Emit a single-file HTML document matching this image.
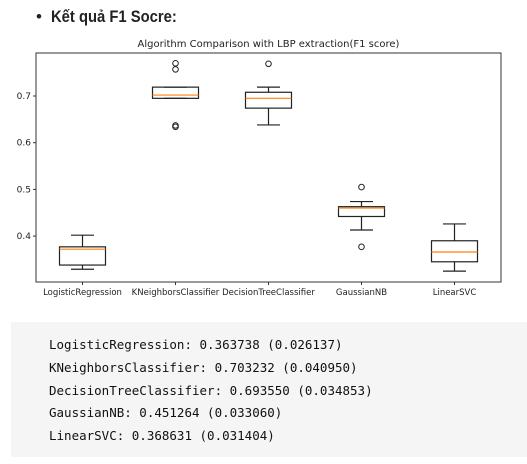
<!DOCTYPE html>
<html><head><meta charset="utf-8"><style>
body{margin:0;width:527px;height:464px;background:#fff;position:relative;overflow:hidden;font-family:"Liberation Sans",sans-serif}
#bul{position:absolute;left:36px;top:7px;font-size:17px;color:#222}
#h{position:absolute;left:51px;top:7px;font-size:17px;font-weight:bold;color:#222;transform:scaleX(0.87);transform-origin:0 0;white-space:nowrap}
#code{position:absolute;left:11px;top:322px;width:516px;height:135px;background:#f5f5f5}
#code div{position:absolute;left:38px;font-family:"DejaVu Sans Mono","Liberation Mono",monospace;font-size:12.5px;color:#111;white-space:pre}
</style></head><body>
<div id="bul">•</div>
<div id="h">Kết quả F1 Socre:</div>
<svg id="chart" width="527" height="320" style="position:absolute;left:0;top:0"></svg>
<div id="code">
<div style="top:15px">LogisticRegression: 0.363738 (0.026137)</div>
<div style="top:38px">KNeighborsClassifier: 0.703232 (0.040950)</div>
<div style="top:61px">DecisionTreeClassifier: 0.693550 (0.034853)</div>
<div style="top:83px">GaussianNB: 0.451264 (0.033060)</div>
<div style="top:106px">LinearSVC: 0.368631 (0.031404)</div>
</div>
<script>
const categories=["LogisticRegression","KNeighborsClassifier","DecisionTreeClassifier","GaussianNB","LinearSVC"];
const whiskerLow=[0.329,0.695,0.638,0.413,0.325];
const q1=[0.338,0.695,0.674,0.442,0.345];
const medians=[0.372,0.702,0.695,0.460,0.366];
const q3=[0.377,0.719,0.708,0.463,0.390];
const whiskerHigh=[0.402,0.719,0.719,0.474,0.426];
const fliers=[[],[0.770,0.757,0.637,0.634],[0.769],[0.505,0.377],[]];
const yTicks=[0.4,0.5,0.6,0.7];
const NS="http://www.w3.org/2000/svg";
const svg=document.getElementById('chart');
const L=36,R=501,T=53,B=282;
function y(v){return 96+(0.7-v)*467;}
function x(i){return L+(R-L)*(i+0.5)/categories.length;}
function mk(t,a){const e=document.createElementNS(NS,t);for(const k in a)e.setAttribute(k,a[k]);svg.appendChild(e);return e;}
let t=mk('text',{x:(L+R)/2,y:47,'text-anchor':'middle','font-size':'10','font-family':'DejaVu Sans,sans-serif',fill:'#222'});
t.textContent="Algorithm Comparison with LBP extraction(F1 score)";


let fr=mk('rect',{x:L,y:T,width:R-L,height:B-T,fill:'none',stroke:'#333','stroke-width':1});


yTicks.forEach(v=>{
 mk('line',{x1:L-3,x2:L,y1:y(v),y2:y(v),stroke:'#333'});
 const e=mk('text',{x:L-5,y:y(v)+3,'text-anchor':'end','font-size':'9','font-family':'DejaVu Sans,sans-serif',fill:'#222'});
 e.textContent=v.toFixed(1);
 
 
});
const bw=46,cw=23;
categories.forEach((c,i)=>{
 const cx=x(i);
 mk('line',{x1:cx,x2:cx,y1:B,y2:B+3,stroke:'#333'});
 const lb=mk('text',{x:cx,y:B+13,'text-anchor':'middle','font-size':'8.5','font-family':'DejaVu Sans,sans-serif',fill:'#222'});
 lb.textContent=c;
 
 
 const g=document.createElementNS(NS,'g');svg.appendChild(g);
 
 
 const add=(tg,a)=>{const e=document.createElementNS(NS,tg);for(const k in a)e.setAttribute(k,a[k]);g.appendChild(e);};
 add('line',{x1:cx,x2:cx,y1:y(whiskerHigh[i]),y2:y(q3[i]),stroke:'#222','stroke-width':1.2});
 add('line',{x1:cx,x2:cx,y1:y(q1[i]),y2:y(whiskerLow[i]),stroke:'#222','stroke-width':1.2});
 add('line',{x1:cx-cw/2,x2:cx+cw/2,y1:y(whiskerHigh[i]),y2:y(whiskerHigh[i]),stroke:'#222','stroke-width':1.2});
 add('line',{x1:cx-cw/2,x2:cx+cw/2,y1:y(whiskerLow[i]),y2:y(whiskerLow[i]),stroke:'#222','stroke-width':1.2});
 add('rect',{x:cx-bw/2,y:y(q3[i]),width:bw,height:y(q1[i])-y(q3[i]),fill:'none',stroke:'#222','stroke-width':1.2});
 add('line',{x1:cx-bw/2,x2:cx+bw/2,y1:y(medians[i]),y2:y(medians[i]),stroke:'#ff7f0e','stroke-width':1.2});
 fliers[i].forEach(f=>add('circle',{cx:cx,cy:y(f),r:2.8,fill:'none',stroke:'#222','stroke-width':1}));
});
</script>
</body></html>
